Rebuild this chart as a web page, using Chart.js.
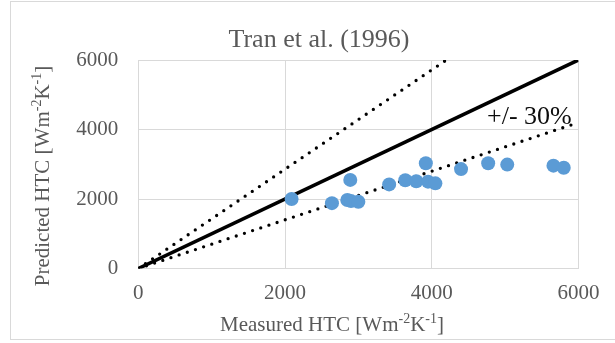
<!DOCTYPE html>
<html lang="en">
<head>
  <meta charset="UTF-8" />
  <title>Tran et al. (1996)</title>
  <script src="https://cdn.jsdelivr.net/npm/chart.js@4.4.1/dist/chart.umd.min.js"></script>
  <style>
    * { box-sizing: border-box; margin: 0; padding: 0; }
    body { background: #ffffff; overflow: hidden; }
    .wrap { position: relative; width: 615px; height: 343px; overflow: hidden; }
    .frame {
      position: absolute; left: 10px; top: 1px;
      width: 640px; height: 339px;
      border: 1px solid #d9d9d9;
    }
    canvas { position: absolute; left: 0; top: 0; }
  </style>
</head>
<body>
  <div class="wrap">
    <div class="frame"></div>
    <canvas id="htcChart" width="615" height="343"></canvas>
  </div>

  <script>
    // measured vs predicted HTC [W m-2 K-1]
    const measured  = [2090, 2640, 2850, 2900, 3000, 2890, 3420, 3640, 3790, 3920, 3950, 4050, 4400, 4770, 5030, 5660, 5800];
    const predicted = [2000, 1880, 1970, 1940, 1920, 2550, 2420, 2540, 2510, 3030, 2500, 2450, 2860, 3030, 2990, 2960, 2900];

    // reference lines: 1:1 and +/- 30 %
    const parityX = [0, 6000], parityY = [0, 6000];
    const upperX  = [0, 4200], upperY  = [0, 6000];
    const lowerX  = [0, 6000], lowerY  = [0, 4200];

    const axisTicks = [0, 2000, 4000, 6000];

    const chartTitle = 'Tran et al. (1996)';
    const xTitle = ['Measured HTC [Wm', { sup: '-2' }, 'K', { sup: '-1' }, ']'];
    const yTitle = ['Predicted HTC [Wm', { sup: '-2' }, 'K', { sup: '-1' }, ']'];
    const bandLabel = '+/- 30%';
    const bandLabelAt = { x: 4755, y: 4160 };

    const SERIF = '"Liberation Serif", "Times New Roman", serif';
    const GREY = '#595959';

    const toPts = (xs, ys) => xs.map((x, i) => ({ x: x, y: ys[i] }));

    // draws text with small raised pieces, centred on x
    function richText(ctx, parts, x, y, size) {
      const supSize = Math.round(size * 0.65);
      let total = 0;
      parts.forEach(p => {
        ctx.font = (typeof p === 'string' ? size : supSize) + 'px ' + SERIF;
        total += ctx.measureText(typeof p === 'string' ? p : p.sup).width;
      });
      let cx = x - total / 2;
      ctx.textAlign = 'left';
      ctx.textBaseline = 'alphabetic';
      parts.forEach(p => {
        if (typeof p === 'string') {
          ctx.font = size + 'px ' + SERIF;
          ctx.fillText(p, cx, y);
          cx += ctx.measureText(p).width;
        } else {
          ctx.font = supSize + 'px ' + SERIF;
          ctx.fillText(p.sup, cx, y - size * 0.36);
          cx += ctx.measureText(p.sup).width;
        }
      });
    }

    const textPlugin = {
      id: 'texts',
      afterDraw(chart) {
        const ctx = chart.ctx;
        const sx = chart.scales.x, sy = chart.scales.y;
        ctx.save();
        ctx.fillStyle = GREY;
        ctx.font = '26px ' + SERIF;
        ctx.textAlign = 'center';
        ctx.textBaseline = 'alphabetic';
        ctx.fillText(chartTitle, 319, 47);

        richText(ctx, xTitle, 332, 331, 21);

        ctx.save();
        ctx.translate(49, 176);
        ctx.rotate(-Math.PI / 2);
        richText(ctx, yTitle, 0, 0, 21);
        ctx.restore();

        ctx.fillStyle = '#0d0d0d';
        ctx.font = '26px ' + SERIF;
        ctx.textAlign = 'left';
        ctx.fillText(bandLabel, sx.getPixelForValue(bandLabelAt.x), sy.getPixelForValue(bandLabelAt.y));
        ctx.restore();
      }
    };

    const dotted = {
      showLine: true,
      borderColor: '#000000',
      borderWidth: 3.3,
      borderDash: [0, 8.6],
      borderCapStyle: 'round',
      pointRadius: 0,
      fill: false
    };

    new Chart(document.getElementById('htcChart'), {
      type: 'scatter',
      data: {
        datasets: [
          {
            label: 'Tran et al. (1996)',
            data: toPts(measured, predicted),
            backgroundColor: '#5b9bd5',
            borderColor: '#5b9bd5',
            pointRadius: 7,
            borderWidth: 0
          },
          {
            label: '1:1',
            data: toPts(parityX, parityY),
            showLine: true,
            borderColor: '#000000',
            borderWidth: 3.6,
            pointRadius: 0
          },
          Object.assign({ label: '+30%', data: toPts(upperX, upperY) }, dotted),
          Object.assign({ label: '-30%', data: toPts(lowerX, lowerY) }, dotted)
        ]
      },
      options: {
        responsive: false,
        animation: false,
        layout: { padding: { top: 60, left: 0, right: 36.6, bottom: 0 } },
        plugins: {
          legend: { display: false },
          tooltip: { enabled: false }
        },
        scales: {
          x: {
            type: 'linear',
            min: 0, max: 6000,
            afterBuildTicks: s => { s.ticks = axisTicks.map(v => ({ value: v })); },
            afterFit: s => { s.height = 74.5; },
            grid: { color: '#d9d9d9', lineWidth: 1, drawTicks: false },
            border: { color: '#d9d9d9', width: 1 },
            ticks: { color: GREY, font: { family: SERIF, size: 21 }, padding: 12, maxRotation: 0,
                     callback: v => String(v) }
          },
          y: {
            type: 'linear',
            min: 0, max: 6000,
            afterBuildTicks: s => { s.ticks = axisTicks.map(v => ({ value: v })); },
            afterFit: s => { s.width = 138.3; },
            grid: { color: '#d9d9d9', lineWidth: 1, drawTicks: false },
            border: { color: '#d9d9d9', width: 1 },
            ticks: { color: GREY, font: { family: SERIF, size: 21 }, padding: 20,
                     callback: v => String(v) }
          }
        }
      },
      plugins: [textPlugin]
    });
  </script>
</body>
</html>
